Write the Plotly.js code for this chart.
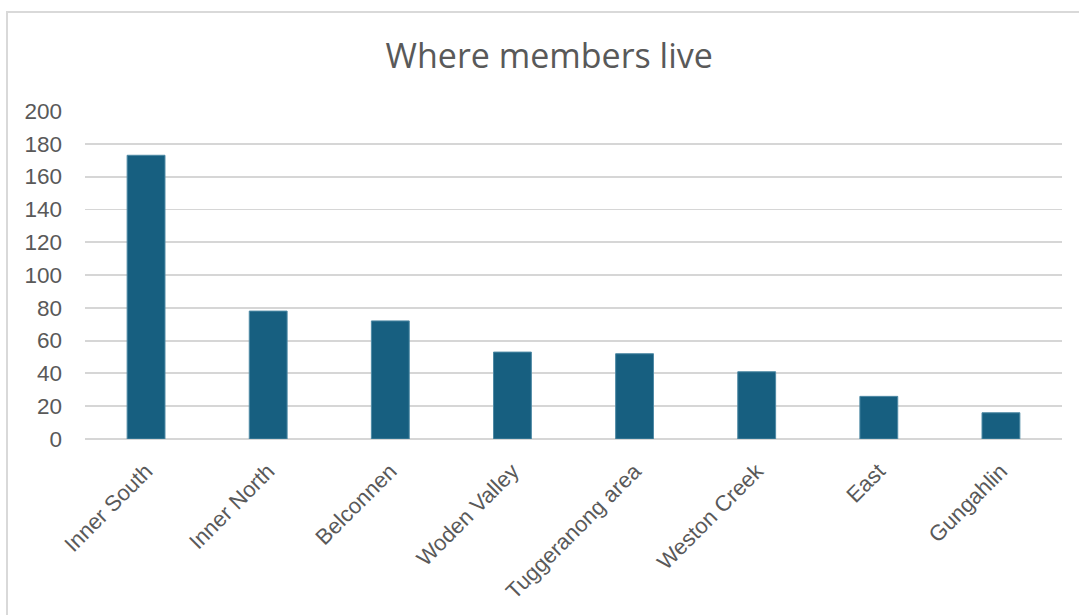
<!DOCTYPE html>
<html>
<head>
<meta charset="utf-8">
<script src="https://cdn.plot.ly/plotly-3.0.1.min.js"></script>
<style>
  html, body { margin: 0; padding: 0; background: #fff; }
  #frame { position: absolute; left: 6px; top: 11px; width: 1080px; height: 620px;
           border-left: 2px solid #d9d9d9; border-top: 2px solid #d9d9d9; box-sizing: border-box; }
  #chart { position: absolute; left: 0; top: 0; width: 1079px; height: 615px; }
</style>
</head>
<body>
<div id="frame"></div>
<div id="chart"></div>
<script>
const categories = ["Inner South", "Inner North", "Belconnen", "Woden Valley", "Tuggeranong area", "Weston Creek", "East", "Gungahlin"];
const members = [173, 78, 72, 53, 52, 41, 26, 16];
const yTicks = [0, 20, 40, 60, 80, 100, 120, 140, 160, 180, 200];

const trace = {
  type: "bar",
  x: categories,
  y: members,
  marker: { color: "#175f80", line: { color: "#4f8aa5", width: 1 } },
  hoverinfo: "x+y"
};

const layout = {
  width: 1079,
  height: 615,
  paper_bgcolor: "rgba(0,0,0,0)",
  plot_bgcolor: "rgba(0,0,0,0)",
  margin: { l: 85, r: 17, t: 111, b: 176 },
  title: {
    text: "Where members live",
    font: { family: "Open Sans, Liberation Sans, sans-serif", size: 34, color: "#595959" },
    x: 0.509, xanchor: "center", y: 0.908, yanchor: "middle"
  },
  bargap: 0.69,
  showlegend: false,
  xaxis: {
    type: "category",
    tickangle: -45,
    tickfont: { family: "Liberation Sans, Arial, sans-serif", size: 22, color: "#595959" },
    showgrid: false,
    showline: false,
    ticks: "",
    zeroline: false,
    ticklabelstandoff: 14
  },
  yaxis: {
    range: [0, 200],
    tickvals: yTicks,
    ticktext: yTicks.map(String),
    tickfont: { family: "Liberation Sans, Arial, sans-serif", size: 22.5, color: "#595959" },
    gridcolor: "#d6d6d6",
    gridwidth: 1.8,
    zeroline: true,
    zerolinecolor: "#d6d6d6",
    zerolinewidth: 1.8,
    showline: false,
    ticks: "",
    ticklabelstandoff: 22
  }
};

Plotly.newPlot("chart", [trace], layout, { displayModeBar: false, staticPlot: true });
</script>
</body>
</html>
